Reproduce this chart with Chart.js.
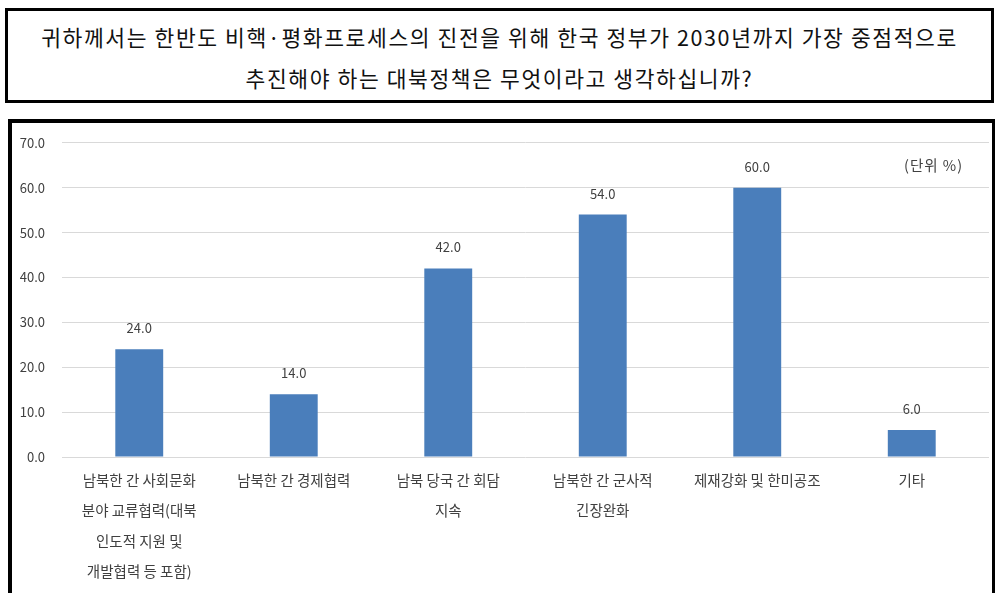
<!DOCTYPE html>
<html>
<head>
<meta charset="utf-8">
<script src="https://cdn.jsdelivr.net/npm/chart.js@4"></script>
<style>
  html, body { margin: 0; padding: 0; background: #fff; }
  body { width: 995px; height: 593px; position: relative; overflow: hidden;
         font-family: "Noto Sans CJK KR", "Noto Sans", sans-serif; }
  .question {
    position: absolute; left: 5px; top: 8px; width: 983px; height: 84px;
    border: 3px solid #000; text-align: center; font-size: 21.5px; color: #111;
    letter-spacing: 1.6px; line-height: 41px; padding-top: 5px; box-sizing: content-box;
  }
  .chart-box {
    position: absolute; left: 8px; top: 119px; width: 980px; height: 480px;
    border-top: 4px solid #000; border-left: 4px solid #000; border-right: 4px solid #000;
  }
  .unit { position: absolute; left: 904px; top: 154px; font-size: 14.5px; color: #404040; letter-spacing: 1px; }
  #chart-wrap { position: absolute; left: 12px; top: 118px; width: 980px; height: 475px; }
</style>
</head>
<body>
<div class="question">귀하께서는 한반도 비핵·평화프로세스의 진전을 위해 한국 정부가 2030년까지 가장 중점적으로<br>추진해야 하는 대북정책은 무엇이라고 생각하십니까?</div>
<div class="chart-box"></div>
<div id="chart-wrap"><canvas id="c"></canvas></div>
<div class="unit">(단위 %)</div>
<script>
// Categories (multi-line labels), values in %
const categories = [
  ["남북한 간 사회문화", "분야 교류협력(대북", "인도적 지원 및", "개발협력 등 포함)"],
  ["남북한 간 경제협력"],
  ["남북 당국 간 회담", "지속"],
  ["남북한 간 군사적", "긴장완화"],
  ["제재강화 및 한미공조"],
  ["기타"]
];
const values = [24.0, 14.0, 42.0, 54.0, 60.0, 6.0];
const yMax = 70;
const yStep = 10;

const BAR_COLOR = "#4a7ebb";
const TEXT_COLOR = "#404040";

// Value labels above each bar, Excel-style "24.0"
const valueLabels = {
  id: "valueLabels",
  afterDatasetsDraw(chart) {
    const { ctx } = chart;
    const meta = chart.getDatasetMeta(0);
    ctx.save();
    ctx.font = "13px 'Noto Sans CJK KR', sans-serif";
    ctx.fillStyle = TEXT_COLOR;
    ctx.textAlign = "center";
    ctx.textBaseline = "middle";
    meta.data.forEach((bar, i) => {
      ctx.fillText(values[i].toFixed(1), bar.x, bar.y - 21);
    });
    ctx.restore();
  }
};

new Chart(document.getElementById("c"), {
  type: "bar",
  data: {
    labels: categories,
    datasets: [{
      data: values,
      backgroundColor: BAR_COLOR,
      borderWidth: 0,
      categoryPercentage: 1,
      barPercentage: 0.31
    }]
  },
  options: {
    responsive: true,
    maintainAspectRatio: false,
    animation: false,
    layout: { padding: { top: 14, right: 3, bottom: 0, left: 0 } },
    plugins: { legend: { display: false }, tooltip: { enabled: false } },
    scales: {
      x: {
        grid: { display: false, drawTicks: false },
        border: { display: false },
        ticks: {
          color: TEXT_COLOR, padding: 8, maxRotation: 0, autoSkip: false,
          font: { family: "'Noto Sans CJK KR', sans-serif", size: 14.5, lineHeight: 2.1 }
        },
        afterFit(scale) { scale.height = 136; }
      },
      y: {
        min: 0, max: yMax,
        grid: { color: "#d9d9d9", drawTicks: false },
        border: { display: false },
        ticks: {
          stepSize: yStep, color: TEXT_COLOR, padding: 17,
          font: { family: "'Noto Sans CJK KR', sans-serif", size: 13 },
          callback: v => v.toFixed(1)
        },
        afterFit(scale) { scale.width = 50; }
      }
    }
  },
  plugins: [valueLabels]
});
</script>
</body>
</html>
